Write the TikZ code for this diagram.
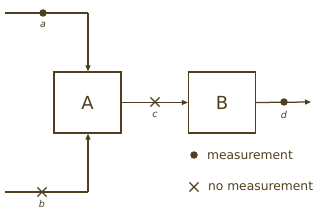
\documentclass[tikz,border=0pt]{standalone}
\usepackage{fontspec}
\setmainfont{DejaVu Sans}
\usetikzlibrary{arrows.meta,shapes.misc}
\definecolor{ink}{HTML}{4F3F1E}
\begin{document}
\begin{tikzpicture}[x=1pt,y=-1pt,
  line/.style={draw=ink,line width=1.25pt},
  arr/.style={line,-{Triangle[length=6pt,width=5pt]}},
  blk/.style={draw=ink,line width=1.25pt,minimum width=67pt,minimum height=61pt,inner sep=0pt,font=\fontsize{18}{18}\selectfont,text=ink},
  dotm/.style={circle,fill=ink,inner sep=0pt,minimum size=7.5pt},
  crossm/.style={cross out,draw=ink,line width=1.2pt,inner sep=0pt,minimum size=8pt},
  lab/.style={font=\itshape\fontsize{9.5}{9.5}\selectfont,text=ink},
  leg/.style={font=\fontsize{12.3}{13}\selectfont,text=ink,anchor=west}]
\useasboundingbox (0,0) rectangle (320,213);
\node[blk] (A) at (87.5,102.5) {A};
\node[blk] (B) at (222,102.5) {B};
\coordinate (ain) at (5,13);
\coordinate (acorner) at (88,13);
\coordinate (bin) at (5,192);
\coordinate (bcorner) at (88,192);
\coordinate (out) at (311,102);
\node[dotm] (ma) at (43,13) {};
\node[crossm] (mb) at (42,192) {};
\node[crossm] (mc) at (155,102) {};
\node[dotm] (md) at (284,102) {};
\node[lab] (la) at (43,24.5) {a};
\node[lab] (lb) at (42,204) {b};
\node[lab] (lc) at (155,115) {c};
\node[lab] (ld) at (284,115) {d};
\draw[line] (ain) -- (acorner);
\draw[arr] (acorner) -- (A.north -| acorner);
\draw[line] (bin) -- (bcorner);
\draw[arr] (bcorner) -- (A.south -| bcorner);
\draw[arr] (A.east) -- (B.west);
\draw[arr] (B.east) -- (out);
\node[dotm] (lg1) at (194,155) {};
\node[crossm] (lg2) at (194,187) {};
\node[leg] (t1) at (203.5,155) {measurement};
\node[leg] (t2) at (204.5,186.5) {no measurement};
\end{tikzpicture}
\end{document}
